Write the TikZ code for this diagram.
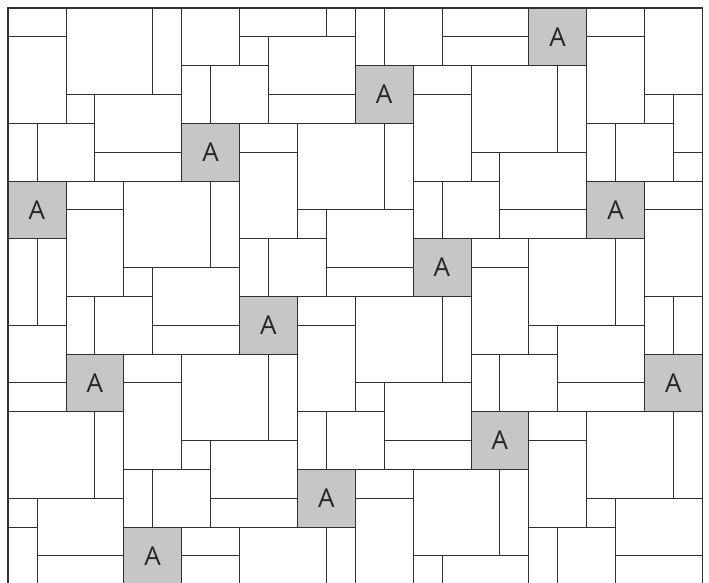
\documentclass[tikz,border=0pt]{standalone}
\usepackage{fontspec}
\setmainfont{Open Sans}
\definecolor{tilegray}{HTML}{C6C6C6}
\definecolor{edge}{HTML}{303030}
\tikzset{
  piece/.style={draw=edge, line width=0.7pt, fill=white},
  akey/.style={draw=edge, line width=0.7pt, fill=tilegray, minimum width=57.86pt,
    minimum height=57.66pt, inner sep=0pt, font=\fontsize{26}{26}\selectfont, text=black!85},
  frame/.style={draw=edge, line width=1.3pt}
}
\begin{document}
\begin{tikzpicture}[x=28.93pt, y=-28.83pt]
\useasboundingbox (-8pt,8pt) rectangle (701pt,-574pt);
\begin{scope}
  \clip (0,0) rectangle (24,21);
  \foreach \m in {-3,...,5}{
    \foreach \n in {-3,...,5}{
      \pgfmathtruncatemacro\lx{6+6*\m+2*\n}
      \pgfmathtruncatemacro\ly{4-2*\m+6*\n}
      \begin{scope}[shift={(\lx,\ly)}]
        \draw[piece] (-4,-1) rectangle ++(1,1);
        \draw[piece] (-3,-1) rectangle ++(3,2);
        \draw[piece] (-3,1) rectangle ++(3,1);
        \draw[piece] (-5,0) rectangle ++(2,2);
        \draw[piece] (0,-2) rectangle ++(1,2);
        \draw[piece] (-4,-4) rectangle ++(3,3);
        \draw[piece] (-1,-4) rectangle ++(1,3);
        \draw[piece] (0,-5) rectangle ++(2,3);
        \draw[piece] (-6,-4) rectangle ++(2,1);
      \end{scope}
    }
  }
  \node[akey] (a1) at (1,7) {A};
  \node[akey] (a2) at (7,5) {A};
  \node[akey] (a3) at (13,3) {A};
  \node[akey] (a4) at (19,1) {A};
  \node[akey] (a5) at (3,13) {A};
  \node[akey] (a6) at (9,11) {A};
  \node[akey] (a7) at (15,9) {A};
  \node[akey] (a8) at (21,7) {A};
  \node[akey] (a9) at (5,19) {A};
  \node[akey] (a10) at (11,17) {A};
  \node[akey] (a11) at (17,15) {A};
  \node[akey] (a12) at (23,13) {A};
\end{scope}
\draw[frame] (0,20.5) -- (0,0) -- (24,0) -- (24,20.5);
\end{tikzpicture}
\end{document}
